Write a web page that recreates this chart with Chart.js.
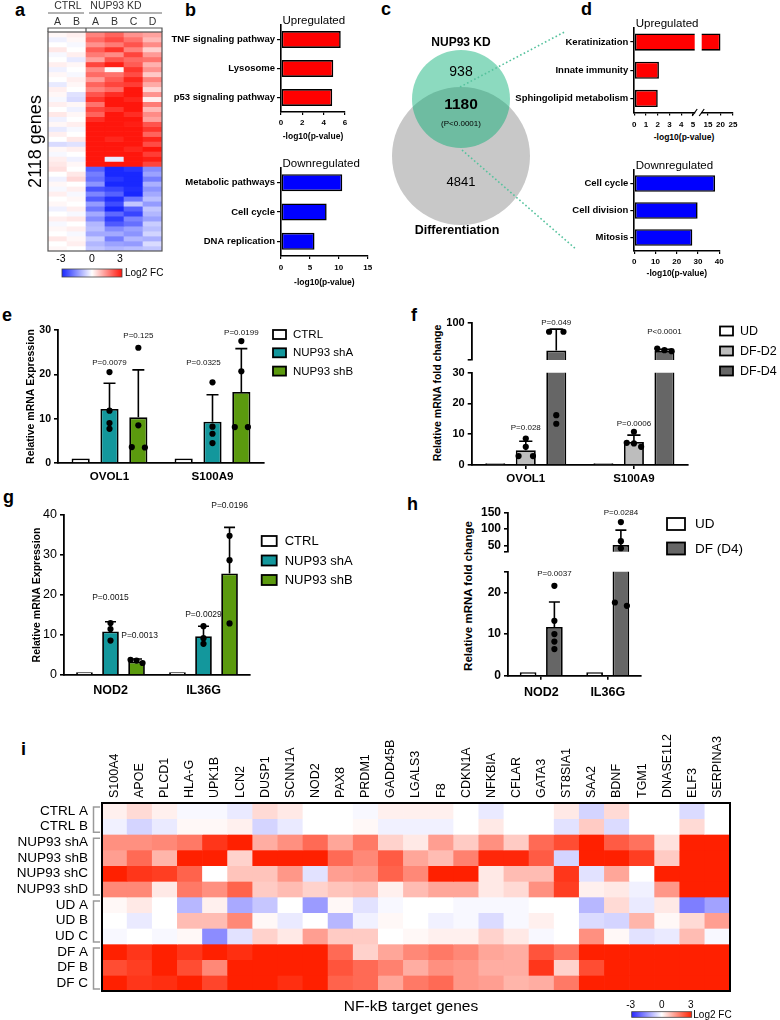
<!DOCTYPE html>
<html>
<head>
<meta charset="utf-8">
<title>NUP93 figure</title>
<script src="https://cdn.jsdelivr.net/npm/chart.js@4.4.1/dist/chart.umd.min.js"></script>
<style>
  html,body{margin:0;padding:0;background:#fff;}
  #page{position:relative;width:780px;height:1020px;overflow:hidden;background:#fff;font-family:'Liberation Sans',Arial,Helvetica,sans-serif;color:#000;}
  #page canvas{position:absolute;}
  .pl{position:absolute;font-weight:bold;font-size:18px;line-height:18px;}
  .rt{position:absolute;white-space:nowrap;font-weight:bold;transform:translate(-50%,-50%) rotate(-90deg);}
  .ht{position:absolute;white-space:nowrap;font-weight:bold;transform:translate(-50%,-50%);}
</style>
</head>
<body>
<div id="page">
  <div class="pl" style="left:15px;top:1px">a</div>
  <div class="pl" style="left:185px;top:1px">b</div>
  <div class="pl" style="left:381px;top:0px">c</div>
  <div class="pl" style="left:581px;top:0px">d</div>
  <div class="pl" style="left:2px;top:306px">e</div>
  <div class="pl" style="left:411px;top:306px">f</div>
  <div class="pl" style="left:3px;top:488px">g</div>
  <div class="pl" style="left:407px;top:495px">h</div>
  <div class="pl" style="left:21px;top:740px">i</div>
  <div class="rt" style="left:437px;top:393px;font-size:10.5px">Relative mRNA fold change</div>
  <div class="rt" style="left:468px;top:596px;font-size:11.5px">Relative mRNA fold change</div>
  <div class="ht" style="left:684px;top:137px;font-size:8.5px">-log10(p-value)</div>
</div>
<script>
// ================= DATA =================
// panel a : heatmap of 2118 genes (log2 FC), columns = samples
const aGroups = ['CTRL', 'NUP93 KD'];
const aSamples = ['A', 'B', 'A', 'B', 'C', 'D'];
const aHeat = [
[0.1,0.2,1.6,2.0,1.4,1.2],
[-0.2,0.1,1.9,2.3,1.8,0.9],
[0.0,-0.1,1.4,1.7,2.2,1.5],
[0.3,0.0,2.1,2.6,1.6,0.6],
[-0.1,0.2,1.7,1.5,2.4,1.3],
[0.0,-0.3,1.2,2.2,1.9,1.8],
[0.2,0.1,2.4,2.9,2.1,1.0],
[-0.2,0.0,1.5,0.1,2.6,1.4],
[0.1,-0.1,1.9,1.8,2.3,0.7],
[0.0,0.2,1.3,2.1,2.8,1.6],
[-0.3,0.1,2.0,2.4,2.5,1.1],
[0.2,0.0,1.6,1.9,3.0,0.5],
[0.1,-0.4,2.2,2.7,3.0,1.4],
[-0.1,-0.5,2.6,3.0,2.8,0.2],
[0.2,0.1,1.8,3.0,3.0,1.7],
[0.0,-0.2,2.4,2.6,3.0,0.9],
[0.3,0.1,2.0,3.0,2.7,1.5],
[-0.2,0.0,2.7,3.0,3.0,1.2],
[0.1,0.2,3.0,3.0,2.9,2.2],
[-0.3,-0.1,3.0,3.0,3.0,2.6],
[0.2,0.0,3.0,3.0,3.0,2.0],
[0.0,0.3,3.0,2.8,3.0,2.8],
[-0.5,-0.4,3.0,3.0,3.0,2.3],
[0.1,0.2,3.0,3.0,2.8,3.0],
[-0.1,0.0,3.0,3.0,3.0,2.5],
[0.2,-0.2,3.0,-0.3,3.0,2.9],
[0.3,0.1,3.0,3.0,3.0,2.4],
[0.4,0.0,-2.2,-3.0,-2.8,-1.6],
[0.0,0.3,-1.8,-3.0,-3.0,-1.3],
[-0.2,0.5,-2.0,-2.8,-3.0,-1.8],
[0.1,0.0,-1.5,-3.0,-3.0,-1.1],
[-0.1,0.2,-2.4,-2.6,-2.9,-1.5],
[0.2,-0.1,-1.7,-2.2,-3.0,-1.2],
[0.0,0.1,-2.3,-2.9,-1.9,-0.9],
[0.1,0.0,-1.4,-2.5,-0.8,-1.4],
[-0.2,0.2,-1.9,-3.0,-2.2,-0.8],
[0.0,-0.1,-1.2,-2.1,-2.6,-1.0],
[0.2,0.3,-1.6,-2.7,-1.7,-1.3],
[-0.1,0.0,-1.0,-2.3,-2.0,-0.7],
[0.1,0.2,-0.9,-1.6,-1.3,-0.9],
[0.0,-0.1,-1.2,-1.2,-1.5,-0.6],
[0.3,0.1,-0.7,-1.8,-1.0,-1.1],
[0.0,0.2,-1.0,-1.3,-1.4,-0.5],
[0.1,0.0,-0.8,-1.0,-0.9,-0.8]
];
const aGeneCount = '2118 genes';
const heatTicks = [-3, 0, 3];

// panel b : KEGG enrichment
const bUpTerms = ['TNF signaling pathway', 'Lysosome', 'p53 signaling pathway'];
const bUpVals = [5.6, 4.9, 4.8];
const bUpTicks = [0, 2, 4, 6];
const bDownTerms = ['Metabolic pathways', 'Cell cycle', 'DNA replication'];
const bDownVals = [10.6, 7.9, 5.8];
const bDownTicks = [0, 5, 10, 15];

// panel c : Venn
const vennSets = ['NUP93 KD', 'Differentiation'];
const vennKdOnly = 938, vennBoth = 1180, vennDfOnly = 4841;
const vennP = '(P<0.0001)';

// panel d : GO enrichment
const dUpTerms = ['Keratinization', 'Innate immunity', 'Sphingolipid metabolism'];
const dUpVals = [20.0, 2.1, 2.0];
const dUpTicksLow = [0, 1, 2, 3, 4, 5];
const dUpTicksHigh = [15, 20, 25];
const dDownTerms = ['Cell cycle', 'Cell division', 'Mitosis'];
const dDownVals = [38.0, 29.8, 27.3];
const dDownTicks = [0, 10, 20, 30, 40];

// panel e
const eGenes = ['OVOL1', 'S100A9'];
const eSeries = ['CTRL', 'NUP93 shA', 'NUP93 shB'];
const eMean = [[1.0, 1.0], [12.2, 9.3], [10.3, 16.0]];
const eSD = [[0, 0], [5.8, 6.1], [10.7, 9.8]];
const eDots = [[[], []], [[20.5, 11.8, 9.0, 7.7], [18.2, 8.2, 6.6, 4.5]], [[26.0, 8.5, 3.5, 3.6], [27.5, 20.7, 8.1, 8.1]]];
const eP = [null, ['P=0.0079', 'P=0.0325'], ['P=0.125', 'P=0.0199']];
const eYTicks = [0, 10, 20, 30];

// panel f
const fGenes = ['OVOL1', 'S100A9'];
const fSeries = ['UD', 'DF-D2', 'DF-D4'];
const fMean = [[0.6, 0.6], [4.8, 7.5], [48, 47]];
const fSD = [[0, 0], [2.9, 2.2], [40, 3]];
const fDots = [[[], []], [[8.6, 5.9, 2.9, 2.9], [10.8, 7.2, 7.0, 5.9]], [[83, 83, 16.2, 13.4], [51.5, 48.5, 46.5]]];
const fP = [null, ['P=0.028', 'P=0.0006'], ['P=0.049', 'P<0.0001']];
const fTicksLow = [0, 10, 20, 30];
const fTicksHigh = [30, 100];

// panel g
const gGenes = ['NOD2', 'IL36G'];
const gSeries = ['CTRL', 'NUP93 shA', 'NUP93 shB'];
const gMean = [[0.7, 0.7], [10.9, 9.7], [3.3, 25.4]];
const gSD = [[0, 0], [2.4, 2.5], [0.7, 11.5]];
const gDots = [[[], []], [[13.0, 11.5, 8.6], [12.2, 9.2, 7.8]], [[3.8, 3.6, 3.0], [34.8, 28.7, 12.9]]];
const gP = [null, ['P=0.0015', 'P=0.0029'], ['P=0.0013', 'P=0.0196']];
const gYTicks = [0, 10, 20, 30, 40];

// panel h
const hGenes = ['NOD2', 'IL36G'];
const hSeries = ['UD', 'DF (D4)'];
const hMean = [[0.8, 0.8], [11.7, 51]];
const hSD = [[0, 0], [6.0, 46]];
const hDots = [[[], []], [[21.6, 13.2, 10.0, 8.2, 6.4], [122, 63, 41, 17.6, 16.8]]];
const hP = [null, ['P=0.0037', 'P=0.0284']];
const hTicksLow = [0, 10, 20, 25];
const hTicksHigh = [30, 50, 100, 150];

// panel i : NF-kB target genes heatmap
const iGenes = ['S100A4','APOE','PLCD1','HLA-G','UPK1B','LCN2','DUSP1','SCNN1A','NOD2','PAX8','PRDM1','GADD45B','LGALS3','F8','CDKN1A','NFKBIA','CFLAR','GATA3','ST8SIA1','SAA2','BDNF','TGM1','DNASE1L2','ELF3','SERPINA3'];
const iSamples = ['CTRL A','CTRL B','NUP93 shA','NUP93 shB','NUP93 shC','NUP93 shD','UD A','UD B','UD C','DF A','DF B','DF C'];
const iGroupSizes = [2, 4, 3, 3];
const iHeat = [
[0.2,0.5,0.2,-0.1,-0.1,-0.3,0.5,0.3,0,0,-0.1,0.2,0.2,0.2,0,-0.3,0,0,0.3,-0.6,0.5,0,0,-0.5,0],
[-0.2,-0.6,-0.3,0.1,0.1,0.2,-0.6,-0.3,0,0,0.1,-0.2,-0.2,-0.2,0,0.3,0,0,-0.4,0.7,-0.5,0,0,0.5,0],
[1.5,1.5,1.6,1.8,2.7,3,1.1,1.5,2.0,1.2,1.8,0.6,0.3,1.3,0.7,1.5,0.7,2.0,2.4,3,2.2,1.9,0.4,3,3],
[1.3,2.0,1.0,3,3,0.6,3,3,3,2.0,1.6,2.2,1.2,0.9,1.7,2.9,2.9,2.2,-0.6,3,3,2.6,0.7,3,3],
[3,2.7,2.6,2.1,0,0.8,0.8,1.4,-0.4,1.3,1.4,2.1,1.6,3,3,0.3,0.9,0.9,2.7,-0.4,1.2,0,3,3,3],
[1.6,1.6,0.3,1.8,1.5,2.1,0.7,0.9,0.6,0.8,0.9,0.2,0.9,1.2,1.2,0.3,0.5,1.5,2.6,0.2,0.3,-0.2,1.4,3,3],
[0.1,0.3,0,-1.0,0.2,-1.2,-0.8,0,-1.4,0.1,-0.4,-0.1,0,0,-0.1,-0.1,-0.1,0,0,-1.0,0.5,-0.3,0.3,-1.8,-1.3],
[0,-0.3,0,0.9,0.9,1.6,0.1,-0.3,0,-1.0,-0.2,0.1,0,-0.2,-0.1,-0.5,-0.1,0.2,0,-0.5,-0.6,1.0,0.1,0.5,1.3],
[-0.1,0,-0.1,0.1,-1.6,-0.4,0.6,0.3,1.3,0.7,0.7,0,0.1,0.2,0.2,0.6,0.3,-0.1,0,1.5,0.1,-0.4,-0.3,0.9,-0.1],
[3,2.7,3,2.7,3,2.8,3,3,3,2.0,0.6,1.2,1.6,1.8,1.6,1.2,1.1,2.3,1.9,3,3,3,3,3,3],
[2.4,2.6,3,2.4,1.6,3,3,3,3,2.3,2.0,1.7,1.1,1.5,1.4,1.1,1.1,2.7,0.6,2.4,3,3,3,3,3],
[3,2.7,2.8,3,2.5,3,3,2.8,3,2.1,2.0,1.2,1.8,2.0,1.4,1.3,1.0,1.1,1.8,3,3,3,3,3,3]
];
const iTitle = 'NF-kB target genes';

// ================= HELPERS =================
const FONT = "'Liberation Sans', Arial, Helvetica, sans-serif";
Chart.defaults.font.family = FONT;
Chart.defaults.color = '#000';
const C = {white: '#ffffff', teal: '#13979c', green: '#5b9a0e', lgray: '#bdbdbd', dgray: '#666666'};
const A_POS = [255, 22, 12], A_NEG = [25, 40, 255];
const I_POS = [255, 32, 0], I_NEG = [40, 40, 255];

function heatColor(v, pos, neg) {
  const t = Math.max(-1, Math.min(1, v / 3));
  const c = t >= 0 ? pos : neg, a = Math.abs(t);
  return 'rgb(' + Math.round(255 + (c[0] - 255) * a) + ',' + Math.round(255 + (c[1] - 255) * a) + ',' + Math.round(255 + (c[2] - 255) * a) + ')';
}
function heatDatasets(matrix, pos, neg) {
  return matrix.map((row, r) => ({
    data: row.map(() => [r, r + 1]),
    backgroundColor: row.map(v => heatColor(v, pos, neg)),
    borderWidth: 0, grouped: false, barPercentage: 1, categoryPercentage: 1
  }));
}
function colorBar(ctx, x0, y0, w, h, pos, neg) {
  const g = ctx.createLinearGradient(x0, 0, x0 + w, 0);
  g.addColorStop(0, heatColor(-3, pos, neg));
  g.addColorStop(0.5, '#ffffff');
  g.addColorStop(1, heatColor(3, pos, neg));
  ctx.fillStyle = g; ctx.fillRect(x0, y0, w, h);
  ctx.strokeStyle = '#444'; ctx.lineWidth = 0.8; ctx.strokeRect(x0, y0, w, h);
}

function mk(box, area, yW, xH, xPos, cfg) {
  const c = document.createElement('canvas');
  c.width = box[2]; c.height = box[3];
  c.style.left = box[0] + 'px'; c.style.top = box[1] + 'px';
  c.style.width = box[2] + 'px'; c.style.height = box[3] + 'px';
  document.getElementById('page').appendChild(c);
  const top = xPos === 'top';
  cfg.options = cfg.options || {};
  Object.assign(cfg.options, {
    responsive: false, maintainAspectRatio: false, devicePixelRatio: 1, animation: false, events: [],
    layout: {padding: {
      left: area[0] - box[0] - yW,
      right: box[0] + box[2] - area[2],
      top: area[1] - box[1] - (top ? xH : 0),
      bottom: box[1] + box[3] - area[3] - (top ? 0 : xH)
    }}
  });
  cfg.options.plugins = Object.assign({legend: {display: false}, tooltip: {enabled: false}}, cfg.options.plugins || {});
  return new Chart(c, cfg);
}

// error bars, dots and P labels
function decorPlugin(o) {
  return {
    id: 'decor',
    afterDatasetsDraw(chart) {
      const ctx = chart.ctx, ca = chart.chartArea, ys = chart.scales.y;
      ctx.save();
      ctx.beginPath(); ctx.rect(0, ca.top - 0.5, chart.width, ca.bottom - ca.top + 1); ctx.clip();
      ctx.strokeStyle = '#000'; ctx.fillStyle = '#000'; ctx.lineWidth = 1.6;
      o.sd.forEach((arr, k) => {
        const meta = chart.getDatasetMeta(k);
        arr.forEach((sd, i) => {
          const el = meta.data[i]; if (!el) return;
          const m = o.mean[k][i];
          if (sd > 0) {
            const y0 = ys.getPixelForValue(m), y1 = ys.getPixelForValue(m + sd), cw = el.width * 0.33;
            ctx.beginPath(); ctx.moveTo(el.x, y0); ctx.lineTo(el.x, y1);
            if (y1 >= ca.top - 0.5 && y1 <= ca.bottom + 0.5) { ctx.moveTo(el.x - cw, y1); ctx.lineTo(el.x + cw, y1); }
            ctx.stroke();
          }
          const pts = (o.dots[k][i] || []).map(v => ({v: v, y: ys.getPixelForValue(v)})).sort((a, b) => a.y - b.y);
          let j = 0;
          while (j < pts.length) {
            let e = j;
            while (e + 1 < pts.length && pts[e + 1].y - pts[e].y < 5) e++;
            const n = e - j + 1, spread = el.width * 0.36;
            for (let q = j; q <= e; q++) {
              if (pts[q].y < ca.top || pts[q].y > ca.bottom) continue;
              const off = n === 1 ? 0 : -spread + 2 * spread * (q - j) / (n - 1);
              ctx.beginPath(); ctx.arc(el.x + off, pts[q].y, o.r || 3.1, 0, Math.PI * 2); ctx.fill();
            }
            j = e + 1;
          }
        });
      });
      ctx.restore();
      ctx.save();
      ctx.font = (o.pSize || 8) + 'px ' + FONT; ctx.fillStyle = '#111';
      ctx.textAlign = 'center'; ctx.textBaseline = 'middle';
      (o.p || []).forEach(p => {
        const el = chart.getDatasetMeta(p.s).data[p.g];
        ctx.fillText(p.text, el.x + (p.dx || 0), ys.getPixelForValue(p.v));
      });
      ctx.restore();
    }
  };
}
// legend drawn beside the plot area
function legendPlugin(o) {
  return {
    id: 'legendBox',
    afterDraw(chart) {
      if (!o) return;
      const ctx = chart.ctx, ca = chart.chartArea;
      ctx.save();
      ctx.font = o.size + 'px ' + FONT; ctx.textBaseline = 'middle'; ctx.textAlign = 'left';
      chart.data.datasets.forEach((ds, k) => {
        const x = ca.right + o.dx, y = ca.top + o.dy + k * o.step;
        ctx.fillStyle = ds.backgroundColor; ctx.fillRect(x, y - o.bh / 2, o.bw, o.bh);
        ctx.lineWidth = 1.8; ctx.strokeStyle = '#000'; ctx.strokeRect(x, y - o.bh / 2, o.bw, o.bh);
        ctx.fillStyle = '#000'; ctx.fillText(ds.label, x + o.tx, y + 0.5);
      });
      ctx.restore();
    }
  };
}

function vbar(o) {
  // in the upper segment of a broken axis, bars that end below the segment are left out
  const datasets = o.series.map((s, k) => ({
    label: s, data: o.mean[k].map(v => (v >= o.min ? v : null)), backgroundColor: o.colors[k], borderColor: '#000', borderWidth: 1.8,
    categoryPercentage: o.cp, barPercentage: o.bp
  }));
  o.decor.mean = o.mean;
  return mk(o.box, o.area, o.yW, o.xH, 'bottom', {
    type: 'bar',
    data: {labels: o.genes, datasets: datasets},
    options: {
      scales: {
        x: {display: o.xH > 0,
            ticks: {font: {size: o.xFont || 12, weight: 'bold'}, padding: o.xPad || 4, color: '#000', maxRotation: 0},
            grid: {display: !!o.xTicks, drawOnChartArea: false, drawTicks: !!o.xTicks, tickLength: 4, offset: false, color: '#000', lineWidth: 1.6},
            border: {display: true, color: '#000', width: 1.8},
            afterFit: s => { s.height = o.xH; }},
        y: {min: o.min, max: o.max,
            afterBuildTicks: s => { s.ticks = o.yTicks.map(v => ({value: v})); },
            ticks: {font: {size: o.yFont, weight: o.yWeight || 'bold'}, padding: 3, color: '#000', autoSkip: false,
                    callback: v => (o.hide || []).includes(v) ? '' : v},
            grid: {display: true, drawOnChartArea: false, drawTicks: true, tickLength: 4, color: '#000', lineWidth: 1.6},
            border: {display: true, color: '#000', width: 1.8},
            title: {display: !!o.yTitle, text: o.yTitle || '', font: {size: 10.5, weight: 'bold'}, color: '#000', padding: {top: 4, bottom: 0}},
            afterFit: s => { s.width = o.yW; }}
      }
    },
    plugins: [decorPlugin(o.decor), legendPlugin(o.legend)]
  });
}

function hbarDecor(o) {
  return {
    id: 'hbarDecor',
    afterDraw(chart) {
      const ctx = chart.ctx, ca = chart.chartArea;
      ctx.save();
      if (o.title) {
        ctx.font = '11.5px ' + FONT; ctx.fillStyle = '#000'; ctx.textAlign = 'left'; ctx.textBaseline = 'alphabetic';
        ctx.fillText(o.title, ca.left + 1.5, ca.top - 1.5);
      }
      if (o.brk) {
        ctx.strokeStyle = '#000'; ctx.lineWidth = 1.2;
        const x = o.brk === 'right' ? ca.right : ca.left;
        ctx.beginPath(); ctx.moveTo(x - 2.5, ca.bottom + 3.5); ctx.lineTo(x + 2.5, ca.bottom - 3.5); ctx.stroke();
      }
      ctx.restore();
    }
  };
}
function hbar(o) {
  return mk(o.box, o.area, o.yW, o.xH, 'bottom', {
    type: 'bar',
    data: {labels: o.terms, datasets: [{data: o.vals.map(v => (v >= o.min ? v : null)), backgroundColor: o.color, borderColor: '#000', borderWidth: 1.6, borderSkipped: false, barPercentage: o.bp, categoryPercentage: 1}]},
    options: {
      indexAxis: 'y',
      scales: {
        x: {min: o.min, max: o.max,
            afterBuildTicks: s => { s.ticks = o.ticks.map(v => ({value: v})); },
            ticks: {font: {size: 8, weight: 'bold'}, padding: o.tp, color: '#000', maxRotation: 0, autoSkip: false},
            grid: {display: true, drawOnChartArea: false, drawTicks: true, tickLength: 3, color: '#000', lineWidth: 1.2},
            border: {display: true, color: '#000', width: 1.6},
            title: {display: !!o.xTitle, text: o.xTitle || '', font: {size: 8.5, weight: 'bold'}, color: '#000', padding: {top: 0, bottom: 0}},
            afterFit: s => { s.height = o.xH; }},
        y: {display: o.yW > 0,
            ticks: {font: {size: 9.5, weight: 'bold'}, padding: 2, color: '#000', autoSkip: false},
            grid: {display: true, drawOnChartArea: false, drawTicks: true, tickLength: 4, color: '#000', lineWidth: 1.2, offset: false},
            border: {display: true, color: '#000', width: 1.6},
            afterFit: s => { s.width = o.yW; }}
      }
    },
    plugins: [hbarDecor(o)]
  });
}

// ================= PANEL a =================
const heatAPlugin = {
  id: 'heatA',
  afterDraw(chart) {
    const ctx = chart.ctx, ca = chart.chartArea;
    const colW = (ca.right - ca.left) / aSamples.length, divX = ca.left + colW * 2;
    ctx.save();
    ctx.strokeStyle = '#555'; ctx.lineWidth = 1.2;
    ctx.strokeRect(ca.left, ca.top, ca.right - ca.left, ca.bottom - ca.top);
    ctx.beginPath();
    ctx.moveTo(ca.left, ca.top); ctx.lineTo(ca.left, ca.top - 4); ctx.lineTo(ca.right, ca.top - 4); ctx.lineTo(ca.right, ca.top);
    ctx.moveTo(divX, ca.top - 4); ctx.lineTo(divX, ca.top);
    ctx.stroke();
    ctx.fillStyle = '#333'; ctx.font = '10.5px ' + FONT; ctx.textAlign = 'center'; ctx.textBaseline = 'middle';
    ctx.fillText(aGroups[0], ca.left + colW + 1, ca.top - 25.5);
    ctx.fillText(aGroups[1], ca.left + colW * 4 - 8, ca.top - 25.5);
    ctx.strokeStyle = '#666'; ctx.lineWidth = 1;
    ctx.beginPath();
    ctx.moveTo(ca.left, ca.top - 19); ctx.lineTo(divX - 2, ca.top - 19);
    ctx.moveTo(divX + 3, ca.top - 19); ctx.lineTo(ca.right, ca.top - 19);
    ctx.stroke();
    // colour key
    const bx = ca.left + 14, bw = 60, by = ca.bottom + 18;
    colorBar(ctx, bx, by, bw, 8, A_POS, A_NEG);
    ctx.fillStyle = '#000'; ctx.font = '10.5px ' + FONT; ctx.textAlign = 'center';
    heatTicks.forEach((t, k) => ctx.fillText(String(t), bx + bw * (t + 3) / 6 + (k === 0 ? -1 : k === 2 ? -2 : 0), ca.bottom + 8));
    ctx.textAlign = 'left'; ctx.font = '10px ' + FONT;
    ctx.fillText('Log2 FC', bx + bw + 3, by + 4.5);
    ctx.restore();
  }
};
mk([20, 0, 160, 290], [48, 32, 162, 251], 23, 18, 'top', {
  type: 'bar',
  data: {labels: aSamples, datasets: heatDatasets(aHeat, A_POS, A_NEG)},
  options: {
    scales: {
      x: {position: 'top', grid: {display: false, drawTicks: false}, border: {display: false},
          ticks: {padding: 4, font: {size: 10.5}, color: '#333', maxRotation: 0, autoSkip: false},
          afterFit: s => { s.height = 18; }},
      y: {min: 0, max: aHeat.length, reverse: true, ticks: {display: false}, grid: {display: false, drawTicks: false}, border: {display: false},
          title: {display: true, text: aGeneCount, font: {size: 18}, color: '#000', padding: {top: 0, bottom: 0}},
          afterFit: s => { s.width = 23; }}
    }
  },
  plugins: [heatAPlugin]
});

// ================= PANEL b =================
hbar({box: [165, 8, 195, 140], area: [281, 25, 345, 112], yW: 116, xH: 30, terms: bUpTerms, vals: bUpVals, color: '#ff0000',
      min: 0, max: 6, ticks: bUpTicks, tp: 3.2, bp: 0.58, xTitle: '-log10(p-value)', title: 'Upregulated'});
hbar({box: [165, 150, 215, 140], area: [281, 168, 367.7, 256], yW: 116, xH: 32, terms: bDownTerms, vals: bDownVals, color: '#0000ff',
      min: 0, max: 15, ticks: bDownTicks, tp: 4.2, bp: 0.58, xTitle: '-log10(p-value)', title: 'Downregulated'});

// ================= PANEL c =================
// circle geometry in the panel's own units (1 unit = 1 px); bubble charts pad the plot by the largest radius
const vennLayout = {kd: {x: 81, y: 74, r: 49}, df: {x: 81, y: 131, r: 69}};
const vennPad = 69;
const vennPlugin = {
  id: 'vennText',
  afterDatasetsDraw(chart) {
    const ctx = chart.ctx, xs = chart.scales.x, ys = chart.scales.y;
    const cx = xs.getPixelForValue(vennLayout.kd.x), ck = ys.getPixelForValue(vennLayout.kd.y), cd = ys.getPixelForValue(vennLayout.df.y);
    ctx.save();
    ctx.strokeStyle = '#55c29d'; ctx.lineWidth = 1.6; ctx.setLineDash([1.6, 2.4]);
    ctx.beginPath();
    ctx.moveTo(cx - 1, ck - 12); ctx.lineTo(cx + 104, ck - 67.3);
    ctx.moveTo(cx + 1, ck + 51); ctx.lineTo(cx + 114, ck + 149.3);
    ctx.stroke();
    ctx.setLineDash([]);
    ctx.fillStyle = '#000'; ctx.textAlign = 'center'; ctx.textBaseline = 'middle';
    ctx.font = 'bold 12px ' + FONT; ctx.fillText(vennSets[0], cx, ck - 56);
    ctx.font = '14px ' + FONT; ctx.fillText(String(vennKdOnly), cx, ck - 27);
    ctx.font = 'bold 15.5px ' + FONT; ctx.fillText(String(vennBoth), cx, ck + 6);
    ctx.font = '8px ' + FONT; ctx.fillText(vennP, cx, ck + 25);
    ctx.font = '13px ' + FONT; ctx.fillText(String(vennDfOnly), cx, cd + 26);
    ctx.font = 'bold 12.5px ' + FONT; ctx.fillText(vennSets[1], cx - 4, cd + 75);
    ctx.restore();
  }
};
mk([380 - vennPad, 25 - vennPad, 205 + 2 * vennPad, 235 + 2 * vennPad], [380, 25, 585, 260], 0, 0, 'bottom', {
  type: 'bubble',
  data: {datasets: [
    {label: vennSets[0], data: [vennLayout.kd], backgroundColor: 'rgba(0,172,112,0.45)', borderWidth: 0, hoverRadius: 0, order: 0, clip: false},
    {label: vennSets[1], data: [vennLayout.df], backgroundColor: '#c8c8c8', borderWidth: 0, hoverRadius: 0, order: 1, clip: false}
  ]},
  options: {scales: {x: {display: false, min: 0, max: 205}, y: {display: false, min: 0, max: 235, reverse: true}}},
  plugins: [vennPlugin]
});

// ================= PANEL d =================
hbar({box: [505, 8, 195, 135], area: [634.3, 28, 695.5, 112.5], yW: 129.3, xH: 20, terms: dUpTerms, vals: dUpVals, color: '#ff0000',
      min: 0, max: 5.15, ticks: dUpTicksLow, tp: 4.7, bp: 0.61, title: 'Upregulated', brk: 'right'});
hbar({box: [695, 8, 50, 135], area: [701.7, 28, 733, 112.5], yW: 0, xH: 20, terms: dUpTerms, vals: dUpVals, color: '#ff0000',
      min: 12.5, max: 25, ticks: dUpTicksHigh, tp: 4.7, bp: 0.61, brk: 'left'});
hbar({box: [505, 150, 235, 135], area: [634.3, 170, 719.3, 251], yW: 129.3, xH: 28, terms: dDownTerms, vals: dDownVals, color: '#0000ff',
      min: 0, max: 40, ticks: dDownTicks, tp: 2.9, bp: 0.62, xTitle: '-log10(p-value)', title: 'Downregulated'});

// ================= PANEL e =================
vbar({box: [0, 315, 380, 175], area: [58, 330, 264, 463], yW: 36.8, xH: 22, genes: eGenes, series: eSeries,
      colors: [C.white, C.teal, C.green], mean: eMean, cp: 0.84, bp: 0.63, xFont: 11.6, xPad: 7,
      min: 0, max: 30, yTicks: eYTicks, yFont: 10.5, yTitle: 'Relative mRNA Expression',
      decor: {sd: eSD, dots: eDots, pSize: 8, p: [
        {s: 1, g: 0, text: eP[1][0], v: 22.5}, {s: 2, g: 0, text: eP[2][0], v: 28.7},
        {s: 1, g: 1, text: eP[1][1], v: 22.5, dx: -9}, {s: 2, g: 1, text: eP[2][1], v: 29.3}]},
      legend: {dx: 9, dy: 4.5, step: 18.3, bw: 13, bh: 9, tx: 20, size: 11.5}});

// ================= PANEL f (broken axis) =================
vbar({box: [390, 308, 390, 70], area: [471.7, 322.7, 688, 360], yW: 40, xH: 0, genes: fGenes, series: fSeries,
      colors: [C.white, C.lgray, C.dgray], mean: fMean, cp: 0.846, bp: 0.656,
      min: 30, max: 100, yTicks: fTicksHigh, hide: [30], yFont: 11,
      decor: {sd: fSD, dots: fDots, pSize: 8, p: [{s: 2, g: 0, text: fP[2][0], v: 100}, {s: 2, g: 1, text: fP[2][1], v: 83}]},
      legend: {dx: 32, dy: 8.3, step: 20, bw: 13, bh: 9, tx: 20, size: 12.5}});
vbar({box: [390, 362, 390, 130], area: [471.7, 372.7, 688, 465], yW: 40, xH: 22, genes: fGenes, series: fSeries,
      colors: [C.white, C.lgray, C.dgray], mean: fMean, cp: 0.846, bp: 0.656, xFont: 11.5, xPad: 2.5, xTicks: true,
      min: 0, max: 30, yTicks: fTicksLow, yFont: 11,
      decor: {sd: fSD, dots: fDots, pSize: 8, p: [{s: 1, g: 0, text: fP[1][0], v: 12.2}, {s: 1, g: 1, text: fP[1][1], v: 13.5}]},
      legend: null});

// ================= PANEL g =================
vbar({box: [0, 497, 380, 205], area: [64, 515, 250, 675], yW: 37.6, xH: 24, genes: gGenes, series: gSeries,
      colors: [C.white, C.teal, C.green], mean: gMean, cp: 0.84, bp: 0.64, xFont: 12.5, xPad: 8,
      min: 0, max: 40, yTicks: gYTicks, yFont: 12.5, yWeight: 'normal', yTitle: 'Relative mRNA Expression',
      decor: {sd: gSD, dots: gDots, pSize: 8.5, p: [
        {s: 1, g: 0, text: gP[1][0], v: 19.3}, {s: 1, g: 1, text: gP[1][1], v: 15.2},
        {s: 2, g: 0, text: gP[2][0], v: 9.9, dx: 3}, {s: 2, g: 1, text: gP[2][1], v: 42.3}]},
      legend: {dx: 11.7, dy: 26, step: 19.5, bw: 15, bh: 10, tx: 23, size: 13}});

// ================= PANEL h (broken axis) =================
vbar({box: [390, 500, 390, 62], area: [508, 513, 641, 557], yW: 40, xH: 0, genes: hGenes, series: hSeries,
      colors: [C.white, C.dgray], mean: hMean, cp: 0.79, bp: 0.635,
      min: 30, max: 150, yTicks: hTicksHigh, hide: [30], yFont: 12,
      decor: {sd: hSD, dots: hDots, pSize: 8, p: [{s: 1, g: 1, text: hP[1][1], v: 150}]},
      legend: {dx: 26, dy: 11, step: 24.5, bw: 18, bh: 12, tx: 28, size: 13.5}});
vbar({box: [390, 560, 390, 140], area: [508, 571.7, 641, 675.7], yW: 40, xH: 22, genes: hGenes, series: hSeries,
      colors: [C.white, C.dgray], mean: hMean, cp: 0.79, bp: 0.635, xFont: 12.5, xPad: 5, xTicks: true,
      min: 0, max: 25, yTicks: hTicksLow, hide: [25], yFont: 12,
      decor: {sd: hSD, dots: hDots, pSize: 8, p: [{s: 1, g: 0, text: hP[1][0], v: 24.4}]},
      legend: null});

// ================= PANEL i =================
const heatIPlugin = {
  id: 'heatI',
  afterDraw(chart) {
    const ctx = chart.ctx, ca = chart.chartArea, ys = chart.scales.y;
    ctx.save();
    ctx.strokeStyle = '#000'; ctx.lineWidth = 2;
    ctx.strokeRect(ca.left, ca.top, ca.right - ca.left, ca.bottom - ca.top);
    ctx.strokeStyle = '#9a9a9a'; ctx.lineWidth = 1.5;
    let start = 0;
    iGroupSizes.forEach(n => {
      const y0 = ys.getPixelForValue(start) + 4, y1 = ys.getPixelForValue(start + n) - 2;
      const xv = ca.left - 8.5, xt = ca.left - 2;
      ctx.beginPath(); ctx.moveTo(xt, y0); ctx.lineTo(xv, y0); ctx.lineTo(xv, y1); ctx.lineTo(xt, y1); ctx.stroke();
      start += n;
    });
    ctx.fillStyle = '#000'; ctx.textAlign = 'center'; ctx.textBaseline = 'middle';
    ctx.font = '15.5px ' + FONT;
    ctx.fillText(iTitle, (ca.left + ca.right) / 2 - 5, ca.bottom + 15.7);
    const bx = ca.right - 98.3, bw = 60, by = ca.bottom + 20.7;
    colorBar(ctx, bx, by, bw, 5.6, I_POS, I_NEG);
    ctx.fillStyle = '#000'; ctx.font = '10px ' + FONT;
    heatTicks.forEach(t => ctx.fillText(String(t), bx + bw * (t + 3) / 6 + (t < 0 ? -1 : t > 0 ? -1 : 0), ca.bottom + 14));
    ctx.textAlign = 'left';
    ctx.fillText('Log2 FC', bx + bw + 1.6, by + 3.5);
    ctx.restore();
  }
};
mk([0, 722, 780, 298], [102, 803, 730, 991], 102, 80, 'top', {
  type: 'bar',
  data: {labels: iGenes, datasets: heatDatasets(iHeat, I_POS, I_NEG)},
  options: {
    scales: {
      x: {position: 'top', grid: {display: false, drawTicks: false}, border: {display: false},
          ticks: {minRotation: 90, maxRotation: 90, autoSkip: false, padding: 5, labelOffset: 15, font: {size: 12.5}, color: '#000'},
          afterFit: s => { s.height = 80; }},
      y: {display: false, min: 0, max: iHeat.length, reverse: true},
      yl: {type: 'category', labels: iSamples, position: 'left', offset: true,
           grid: {display: false, drawTicks: false}, border: {display: false},
           ticks: {padding: 14, font: {size: 13.5}, color: '#000', autoSkip: false},
           afterFit: s => { s.width = 102; }}
    }
  },
  plugins: [heatIPlugin]
});
</script>
</body>
</html>
